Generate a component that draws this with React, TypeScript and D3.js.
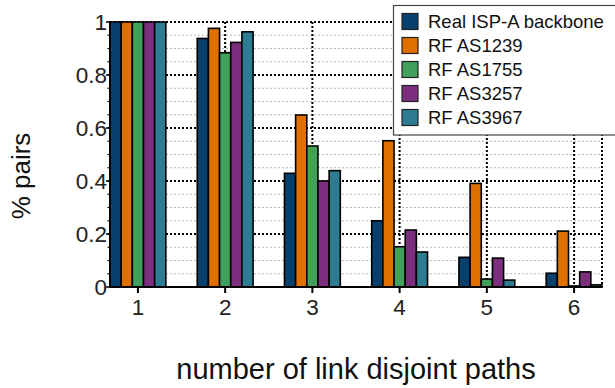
import * as d3 from 'd3';
import React, { useEffect, useRef } from 'react';

const categories = ['1', '2', '3', '4', '5', '6'];
const seriesNames = ['Real ISP-A backbone', 'RF AS1239', 'RF AS1755', 'RF AS3257', 'RF AS3967'];
const realIspA = [1, 0.938, 0.429, 0.25, 0.112, 0.052];
const rfAs1239 = [1, 0.976, 0.649, 0.552, 0.391, 0.211];
const rfAs1755 = [1, 0.884, 0.532, 0.152, 0.03, 0.004];
const rfAs3257 = [1, 0.923, 0.4, 0.215, 0.109, 0.057];
const rfAs3967 = [1, 0.963, 0.439, 0.132, 0.026, 0.008];
const yTicks = [0, 0.2, 0.4, 0.6, 0.8, 1];
const colors = ['#073f6d', '#df7000', '#41a05b', '#7b2f7e', '#2e7c91'];

const FONT = '"Liberation Sans", Arial, sans-serif';

const App = () => {
  const ref = useRef<SVGSVGElement>(null);

  useEffect(() => {
    const series = [realIspA, rfAs1239, rfAs1755, rfAs3257, rfAs3967];
    const svg = d3.select(ref.current);
    svg.selectAll('*').remove();

    // plot area
    const left = 110, right = 602, top = 22, bottom = 287;
    const x = d3.scaleBand().domain(categories).range([left, right]).paddingInner(0.36).paddingOuter(0);
    const xs = d3.scaleBand().domain(seriesNames).range([0, x.bandwidth()]);
    const y = d3.scaleLinear().domain([0, 1]).range([bottom, top]);
    const center = (c) => x(c) + x.bandwidth() / 2;

    // minor grid every 0.05
    const minor = d3.range(0.05, 1, 0.05).filter((v) => Math.abs(v * 5 - Math.round(v * 5)) > 1e-6);
    svg.append('g').selectAll('line').data(minor).join('line')
      .attr('x1', left).attr('x2', right)
      .attr('y1', (d) => y(d)).attr('y2', (d) => y(d))
      .attr('stroke', '#b8b8b8').attr('stroke-width', 1).attr('stroke-dasharray', '2,2');

    // major grid
    svg.append('g').selectAll('line').data(yTicks.filter((d) => d > 0)).join('line')
      .attr('x1', left).attr('x2', right)
      .attr('y1', (d) => y(d)).attr('y2', (d) => y(d))
      .attr('stroke', '#000').attr('stroke-width', 2).attr('stroke-dasharray', '2,2');
    svg.append('g').selectAll('line').data(categories).join('line')
      .attr('x1', (d) => center(d)).attr('x2', (d) => center(d))
      .attr('y1', top).attr('y2', bottom)
      .attr('stroke', '#000').attr('stroke-width', 2).attr('stroke-dasharray', '2,2');
    svg.append('line')
      .attr('x1', right).attr('x2', right).attr('y1', top).attr('y2', bottom)
      .attr('stroke', '#000').attr('stroke-width', 2).attr('stroke-dasharray', '2,2');

    // bars
    const groups = svg.append('g').selectAll('g').data(categories).join('g')
      .attr('transform', (d) => `translate(${x(d)},0)`);
    groups.selectAll('rect')
      .data((c, i) => series.map((s, j) => ({ name: seriesNames[j], value: s[i], color: colors[j] })))
      .join('rect')
      .attr('x', (d) => xs(d.name))
      .attr('width', xs.bandwidth())
      .attr('y', (d) => y(d.value))
      .attr('height', (d) => y(0) - y(d.value))
      .attr('fill', (d) => d.color)
      .attr('stroke', '#000')
      .attr('stroke-width', 1.6);

    // axes
    svg.append('line').attr('x1', left).attr('x2', left).attr('y1', top - 1).attr('y2', bottom)
      .attr('stroke', '#000').attr('stroke-width', 2);
    svg.append('line').attr('x1', left).attr('x2', right).attr('y1', bottom).attr('y2', bottom)
      .attr('stroke', '#000').attr('stroke-width', 2);

    svg.append('g').selectAll('line').data(yTicks).join('line')
      .attr('x1', left - 4).attr('x2', left).attr('y1', (d) => y(d)).attr('y2', (d) => y(d))
      .attr('stroke', '#000').attr('stroke-width', 1.5);
    svg.append('g').selectAll('line').data(d3.range(0.05, 1, 0.05)).join('line')
      .attr('x1', left - 2.5).attr('x2', left).attr('y1', (d) => y(d)).attr('y2', (d) => y(d))
      .attr('stroke', '#000').attr('stroke-width', 1.2);
    svg.append('g').selectAll('text').data(yTicks).join('text')
      .attr('x', left - 3).attr('y', (d) => y(d) + 8)
      .attr('text-anchor', 'end')
      .attr('font-family', FONT).attr('font-size', 22.5).attr('fill', '#222')
      .text((d) => d3.format('~g')(d));

    svg.append('g').selectAll('line').data(categories).join('line')
      .attr('x1', (d) => center(d)).attr('x2', (d) => center(d))
      .attr('y1', bottom).attr('y2', bottom + 6)
      .attr('stroke', '#000').attr('stroke-width', 2);
    svg.append('g').selectAll('text').data(categories).join('text')
      .attr('x', (d) => center(d)).attr('y', 315)
      .attr('text-anchor', 'middle')
      .attr('font-family', FONT).attr('font-size', 22.5).attr('fill', '#222')
      .text((d) => d);

    // axis titles
    svg.append('text')
      .attr('x', 356).attr('y', 379)
      .attr('text-anchor', 'middle')
      .attr('font-family', FONT).attr('font-size', 29).attr('fill', '#111')
      .text('number of link disjoint paths');
    svg.append('text')
      .attr('transform', 'translate(30,176) rotate(-90)')
      .attr('text-anchor', 'middle')
      .attr('font-family', FONT).attr('font-size', 26).attr('fill', '#111')
      .text('% pairs');

    // legend
    const legend = svg.append('g');
    legend.append('rect')
      .attr('x', 393.5).attr('y', 5.5).attr('width', 230).attr('height', 129.5)
      .attr('fill', '#fff').attr('stroke', '#444').attr('stroke-width', 1.2);
    const items = legend.selectAll('g').data(seriesNames).join('g')
      .attr('transform', (d, i) => `translate(402,${13.5 + i * 24})`);
    items.append('rect')
      .attr('width', 16).attr('height', 16)
      .attr('fill', (d, i) => colors[i])
      .attr('stroke', '#222').attr('stroke-width', 1.2);
    items.append('text')
      .attr('x', 26).attr('y', 14)
      .attr('font-family', FONT).attr('font-size', 18.5).attr('fill', '#111')
      .text((d) => d);
  }, []);

  return (
    <svg ref={ref} width={615} height={388} style={{ position: 'absolute', left: 0, top: 0, background: '#fff' }}></svg>
  );
};

export default App;
